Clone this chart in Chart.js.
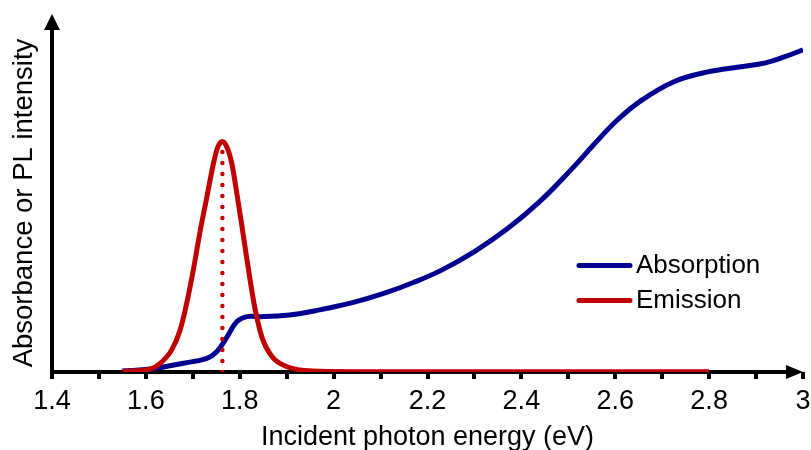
<!DOCTYPE html>
<html>
<head>
<meta charset="utf-8">
<script src="https://cdn.jsdelivr.net/npm/chart.js@4"></script>
<style>
html, body { margin: 0; padding: 0; background: #fff; }
</style>
</head>
<body>
<canvas id="chart" width="811" height="450"></canvas>
<script>
// Values (energy in eV, intensity in arbitrary units)
const absEnergy = [1.55, 1.61, 1.68, 1.73, 1.751, 1.773, 1.794, 1.815, 1.844, 1.88, 1.93, 1.97, 2.04, 2.11, 2.17,
                   2.23, 2.30, 2.37, 2.44, 2.51, 2.555, 2.605, 2.655, 2.725, 2.797, 2.868, 2.92, 2.96, 3.00];
const absValue  = [0.003, 0.009, 0.027, 0.042, 0.062, 0.108, 0.155, 0.170, 0.170, 0.172, 0.180, 0.191, 0.213, 0.243, 0.275,
                   0.313, 0.370, 0.440, 0.525, 0.628, 0.700, 0.775, 0.834, 0.892, 0.922, 0.938, 0.950, 0.968, 0.99];

const emEnergy = [1.55, 1.58, 1.609, 1.63, 1.655, 1.673, 1.687, 1.701, 1.716, 1.730, 1.744, 1.753, 1.763, 1.773,
                  1.783, 1.795, 1.808, 1.822, 1.833, 1.847, 1.869, 1.901, 1.929, 1.97, 2.05, 2.80];
const emValue  = [0.002, 0.004, 0.009, 0.026, 0.068, 0.129, 0.211, 0.313, 0.436, 0.538, 0.641, 0.690, 0.708, 0.690,
                  0.641, 0.538, 0.416, 0.283, 0.191, 0.108, 0.047, 0.016, 0.006, 0.002, 0.001, 0.001];

const tickValues = [1.4, 1.5, 1.6, 1.7, 1.8, 1.9, 2.0, 2.1, 2.2, 2.3, 2.4, 2.5, 2.6, 2.7, 2.8, 2.9, 3.0];
const tickLabels = ['1.4', '1.6', '1.8', '2', '2.2', '2.4', '2.6', '2.8', '3'];

const FONT = '"Liberation Sans", Arial, sans-serif';
const yTitle = 'Absorbance or PL intensity';
const toPoints = (xs, ys) => xs.map((x, i) => ({ x: x, y: ys[i] }));

// dotted marker under the emission maximum
const peakIdx = emValue.indexOf(Math.max(...emValue));
const peakLine = [{ x: emEnergy[peakIdx], y: 0 }, { x: emEnergy[peakIdx], y: emValue[peakIdx] }];

// axis lines with arrow heads, drawn under the curves
const axisArrows = {
    id: 'axisArrows',
    beforeDatasetsDraw(chart) {
        const { ctx, chartArea: a } = chart;
        ctx.save();
        ctx.strokeStyle = '#000';
        ctx.fillStyle = '#000';
        ctx.lineWidth = 4;
        ctx.beginPath();
        ctx.moveTo(a.left, a.bottom + 2);
        ctx.lineTo(a.left, a.top + 12);
        ctx.moveTo(a.left - 2, a.bottom);
        ctx.lineTo(a.right - 12, a.bottom);
        ctx.stroke();
        ctx.beginPath();
        ctx.moveTo(a.left, a.top);
        ctx.lineTo(a.left - 8, a.top + 16);
        ctx.lineTo(a.left + 8, a.top + 16);
        ctx.closePath();
        ctx.moveTo(a.right, a.bottom);
        ctx.lineTo(a.right - 17, a.bottom - 7);
        ctx.lineTo(a.right - 17, a.bottom + 7);
        ctx.closePath();
        ctx.fill();

        // rotated y title, a little below the middle of the axis like the original
        ctx.font = '27.5px ' + FONT;
        ctx.textAlign = 'center';
        ctx.textBaseline = 'middle';
        ctx.translate(24, 203);
        ctx.rotate(-Math.PI / 2);
        ctx.fillText(yTitle, 0, 0);
        ctx.restore();
    }
};

// legend sitting inside the plot
const insideLegend = {
    id: 'insideLegend',
    afterDatasetsDraw(chart) {
        const { ctx } = chart;
        ctx.save();
        ctx.font = '26px ' + FONT;
        ctx.textBaseline = 'middle';
        ctx.lineCap = 'round';
        ctx.lineWidth = 5;
        chart.data.datasets.filter(d => d.label).forEach((d, i) => {
            const y = 265.5 + i * 35;
            ctx.strokeStyle = d.borderColor;
            ctx.beginPath();
            ctx.moveTo(579, y);
            ctx.lineTo(630, y);
            ctx.stroke();
            ctx.fillStyle = '#000';
            ctx.fillText(d.label, 636, y);
        });
        ctx.restore();
    }
};

new Chart(document.getElementById('chart'), {
    type: 'line',
    data: {
        datasets: [{
            label: 'Absorption',
            data: toPoints(absEnergy, absValue),
            borderColor: '#000090',
            borderWidth: 5,
            pointRadius: 0,
            tension: 0.4,
            order: 2
        }, {
            label: 'Emission',
            data: toPoints(emEnergy, emValue),
            borderColor: '#C00000',
            borderWidth: 5,
            pointRadius: 0,
            cubicInterpolationMode: 'monotone',
            order: 0
        }, {
            label: '',
            data: peakLine,
            borderColor: '#C00000',
            borderWidth: 4.5,
            borderDash: [0, 11],
            borderCapStyle: 'round',
            pointRadius: 0,
            tension: 0,
            order: 1
        }]
    },
    options: {
        responsive: false,
        animation: false,
        events: [],
        layout: { padding: { top: 14, right: 8, left: 0, bottom: 0 } },
        plugins: {
            legend: { display: false },
            tooltip: { enabled: false }
        },
        scales: {
            x: {
                type: 'linear',
                min: 1.4,
                max: 3,
                afterBuildTicks: s => { s.ticks = tickValues.map(v => ({ value: v })); },
                afterFit: s => { s.height = 78; s.paddingLeft = 0; s.paddingRight = 0; },
                border: { display: false },
                grid: { drawOnChartArea: false, drawTicks: true, tickLength: 7, color: '#000', lineWidth: 4 },
                ticks: {
                    autoSkip: false,
                    maxRotation: 0,
                    padding: 6,
                    color: '#000',
                    font: { family: FONT, size: 27 },
                    callback: v => {
                        const s = String(Math.round(v * 10) / 10);
                        return tickLabels.includes(s) ? s : '';
                    }
                },
                title: {
                    display: true,
                    text: 'Incident photon energy (eV)',
                    color: '#000',
                    font: { family: FONT, size: 27, lineHeight: 0.9 },
                    padding: 0
                }
            },
            y: {
                min: 0,
                max: 1.1,
                afterFit: s => { s.width = 52; },
                border: { display: false },
                grid: { display: false },
                ticks: { display: false },
                title: { display: false }
            }
        }
    },
    plugins: [axisArrows, insideLegend]
});
</script>
</body>
</html>
